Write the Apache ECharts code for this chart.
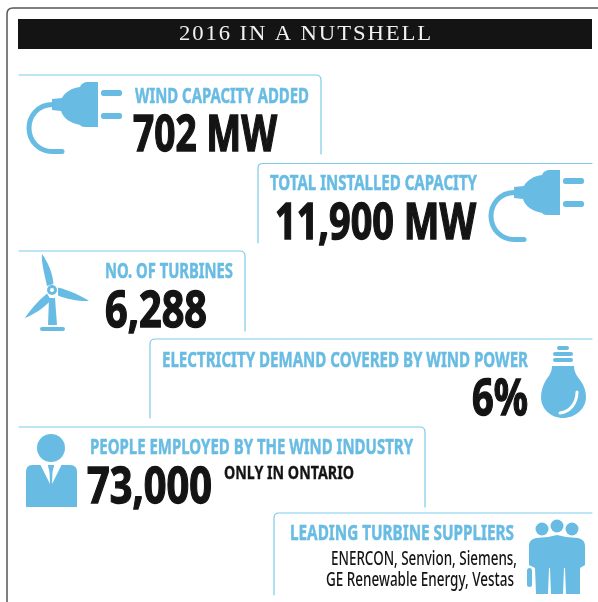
<!DOCTYPE html>
<html lang="en">
<head>
    <meta charset="UTF-8">
    <title>2016 in a nutshell</title>
    <script src="https://cdn.jsdelivr.net/npm/echarts@6/dist/echarts.min.js"></script>
    <style>html,body{margin:0;padding:0;background:#fff}</style>
</head>
<body>
    <div id="main" style="width:598px;height:602px;"></div>
    <script type="text/javascript">
        const titleText = '2016 IN A NUTSHELL';
        const headings = ['WIND CAPACITY ADDED', 'TOTAL INSTALLED CAPACITY', 'NO. OF TURBINES',
            'ELECTRICITY DEMAND COVERED BY WIND POWER', 'PEOPLE EMPLOYED BY THE WIND INDUSTRY', 'LEADING TURBINE SUPPLIERS'];
        const values = ['702 MW', '11,900 MW', '6,288', '6%', '73,000'];
        const valueNote = 'ONLY IN ONTARIO';
        const suppliers = ['ENERCON, Senvion, Siemens,', 'GE Renewable Energy, Vestas'];

        const BLUE = '#68bce3', LINE = '#7fcbea', INK = '#141414';

        // svg paths for the icons and panel outlines, registered as graphic shapes
        const paths = {
            frame: 'M7,602 L7,14 C7,10 9,8 13,8 L598,8',
            panel1: 'M19,75 L316,75 C319.500,75 321,77 321,80 L321,154',
            panel2: 'M258,243 L258,168 C258,165 260,163.500 263,163.500 L592,163.500',
            panel3: 'M19,251 L240,251 C243.500,251 245,253 245,256 L245,331',
            panel4: 'M150,418 L150,344 C150,341 152,339 155,339 L592,339',
            panel5: 'M19,427 L420,427 C423.500,427 425,429 425,432 L425,507',
            panel6: 'M274,595 L274,518 C274,515 276,513 279,513 L592,513',
            plugBody: 'M98,82 L98,127 L85,127 C82,127 81,126 80,125 C70,123 63,118 61,111 L52,110 L52,99 L62,98 C65,92 72,88 80,87 C81,84 84,82 88,82 Z',
            plugCable: 'M53,104.500 C37,104.500 29,117 29,128 C29,142 40,151.500 52,151.500 L62,151.500',
            bladeUp: 'M42,254 C48,262 53,274 53.500,284 L47,286 C45,276 41,262 42,254 Z',
            bladeRight: 'M58,287.500 C68,290 82,296 89,301 C80,301.500 66,299 58,295.500 Z',
            bladeLeft: 'M47,293.500 L51,300 C44,308 33,315 25,318 C29,311 39,300 47,293.500 Z',
            tower: 'M49,298 L55,298 L57,325 L48,325 Z',
            bulb: 'M552,366 L574,366 C574,372 577,376 580,380 C584,385 586,391 586,397 C586,409 575,418 563,418 C551,418 541,409 541,397 C541,391 543,385 546,380 C549,376 552,372 552,366 Z',
            bulbShine: 'M577,392 C577,403 570,412 560,413',
            suit: 'M32,465 L70,465 C75,465 77,468 77,472 L77,507 L26,507 L26,472 C26,468 28,465 32,465 Z',
            collarLeft: 'M40,464 L47.500,464 L49.500,472 L50,484 Z',
            collarRight: 'M62,464 L54.500,464 L52.500,472 L52,484 Z',
            crowd: 'M529,546 C529,541 532,539 536,538 L548,537 L557,535 L566,537 L578,538 C582,539 585,541 585,546 L585,565 L580,568 L580,594 L566,594 L565,568 L564,568 L563,594 L551,594 L550,568 L549,568 L548,594 L536,594 L535,568 L529,565 Z'
        };
        Object.keys(paths).forEach(k => {
            echarts.graphic.registerShape(k, echarts.graphic.extendPath(paths[k]));
        });

        const measure = document.createElement('canvas').getContext('2d');

        // text squeezed to run from left to right, sitting on the given baseline
        function fitText(text, left, right, baseline, size, fill, weight, stroke, family) {
            const font = weight + ' ' + size + 'px ' + (family || '"Noto Sans"');
            measure.font = font;
            const sx = (right - left) / measure.measureText(text).width;
            return {
                type: 'text', x: left, y: baseline - size * 0.295, scaleX: sx,
                style: {
                    text: text, font: font, fill: fill, align: 'left', verticalAlign: 'middle',
                    stroke: stroke ? fill : null, lineWidth: stroke || 0
                }
            };
        }
        const filled = (type) => ({type: type, style: {fill: BLUE}});
        const outline = (type, color, w) => ({type: type, style: {fill: 'none', stroke: color, lineWidth: w, lineCap: 'round'}});
        const rrect = (x, y, w, h, r, fill) => ({type: 'rect', shape: {x: x, y: y, width: w, height: h, r: r}, style: {fill: fill || BLUE}});
        const dot = (cx, cy, r, fill) => ({type: 'circle', shape: {cx: cx, cy: cy, r: r}, style: {fill: fill || BLUE}});

        const plug = (dx, dy) => ({
            type: 'group', x: dx, y: dy,
            children: [
                filled('plugBody'),
                outline('plugCable', BLUE, 5),
                rrect(101, 90, 21, 6, 2.500),
                rrect(101, 113, 21, 6, 2.500)
            ]
        });

        const elements = [
            outline('frame', '#555555', 1.500),
            {type: 'rect', shape: {x: 18, y: 19, width: 574, height: 30}, style: {fill: INK}},
            fitText(titleText.split('').join('\u200a'), 179, 431, 40.500, 20.500, '#f2f2f2', 400, 0, '"Liberation Serif"'),
            outline('panel1', LINE, 1.200), outline('panel2', LINE, 1.200), outline('panel3', LINE, 1.200),
            outline('panel4', LINE, 1.200), outline('panel5', LINE, 1.200), outline('panel6', LINE, 1.200),

            plug(0, 0), plug(462, 88),

            // turbine
            filled('bladeUp'), filled('bladeRight'), filled('bladeLeft'), filled('tower'),
            dot(52, 290, 5), dot(52, 290, 2, '#ffffff'),
            rrect(40, 327, 25, 4, 2),

            // bulb
            rrect(557, 346, 12, 4, 2), rrect(553, 352, 20, 4, 2), rrect(553, 358, 20, 4, 2),
            filled('bulb'), outline('bulbShine', '#ffffff', 3),

            // person
            dot(51, 448, 14), filled('suit'),
            {type: 'collarLeft', style: {fill: '#ffffff'}}, {type: 'collarRight', style: {fill: '#ffffff'}},

            // crowd
            dot(542, 529, 6.500), dot(572, 529, 6.500), dot(557, 526, 6.500),
            filled('crowd'), rrect(527, 568, 5, 19, 2.500),

            fitText(headings[0], 135, 309, 103, 21, BLUE, 700, 0.500),
            fitText(values[0], 133, 277, 151.500, 50, INK, 700, 1.400),
            fitText(headings[1], 270, 477, 190.500, 21, BLUE, 700, 0.500),
            fitText(values[1], 275, 476, 239, 50, INK, 700, 1.400),
            fitText(headings[2], 105, 233, 278, 21, BLUE, 700, 0.500),
            fitText(values[2], 105, 207, 327, 50, INK, 700, 1.400),
            fitText(headings[3], 162, 528, 367, 21, BLUE, 700, 0.500),
            fitText(values[3], 472, 528, 415, 50, INK, 700, 1.400),
            fitText(headings[4], 90, 413, 454, 21, BLUE, 700, 0.500),
            fitText(values[4], 87, 212, 503, 50, INK, 700, 1.400),
            fitText(valueNote, 224, 354, 479, 18, INK, 700, 0.300),
            fitText(headings[5], 290, 514, 540, 21, BLUE, 700, 0.500),
            fitText(suppliers[0], 331, 517, 565, 19, INK, 500),
            fitText(suppliers[1], 326, 514, 586, 19, INK, 500)
        ];

        const myChart = echarts.init(document.getElementById('main'));
        myChart.setOption({
            backgroundColor: '#ffffff',
            animation: false,
            graphic: {elements: elements}
        });
    </script>
</body>
</html>
